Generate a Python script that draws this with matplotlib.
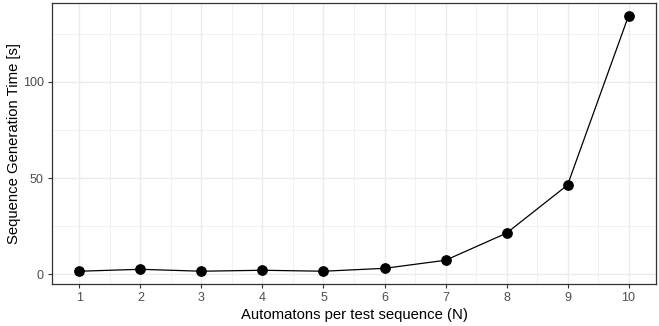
import matplotlib
matplotlib.use('Agg')
import matplotlib.pyplot as plt
import numpy as np

n_automatons = [1, 2, 3, 4, 5, 6, 7, 8, 9, 10]
gen_time_s = [1.6, 2.6, 1.6, 2.1, 1.6, 3.1, 7.3, 21.4, 46.4, 134.4]
y_ticks = [0, 50, 100]

plt.rcParams['font.family'] = ['Liberation Sans', 'DejaVu Sans']

fig = plt.figure(figsize=(6.59, 3.26), dpi=100)
ax = fig.add_axes([52 / 659, 42 / 326, 604 / 659, 281 / 326])

ax.plot(n_automatons, gen_time_s, color='black', linewidth=0.9, zorder=3)
ax.scatter(n_automatons, gen_time_s, s=45, color='black', zorder=4)

ax.set_xlim(0.55, 10.45)
span = max(gen_time_s) - min(gen_time_s)
ax.set_ylim(min(gen_time_s) - 0.05 * span, max(gen_time_s) + 0.05 * span)

ax.set_xticks(n_automatons)
ax.set_xticks(np.arange(1.5, 10, 1), minor=True)
ax.set_yticks(y_ticks)
ax.set_yticks([25, 75, 125], minor=True)

ax.grid(True, which='major', color='#EBEBEB', linewidth=1.0, zorder=0)
ax.grid(True, which='minor', color='#EBEBEB', linewidth=0.5, zorder=0)
ax.set_axisbelow(True)

for sp in ax.spines.values():
    sp.set_edgecolor('#333333')
    sp.set_linewidth(0.9)

ax.tick_params(which='major', length=3, width=0.8, color='#333333',
               labelcolor='#4D4D4D', labelsize=9, pad=3)
ax.tick_params(which='minor', length=0)

ax.set_xlabel('Automatons per test sequence (N)', fontsize=10.7, labelpad=3)
ax.set_ylabel('Sequence Generation Time [s]', fontsize=10.7, labelpad=1)

plt.savefig('out.png', dpi=100)
plt.close()
